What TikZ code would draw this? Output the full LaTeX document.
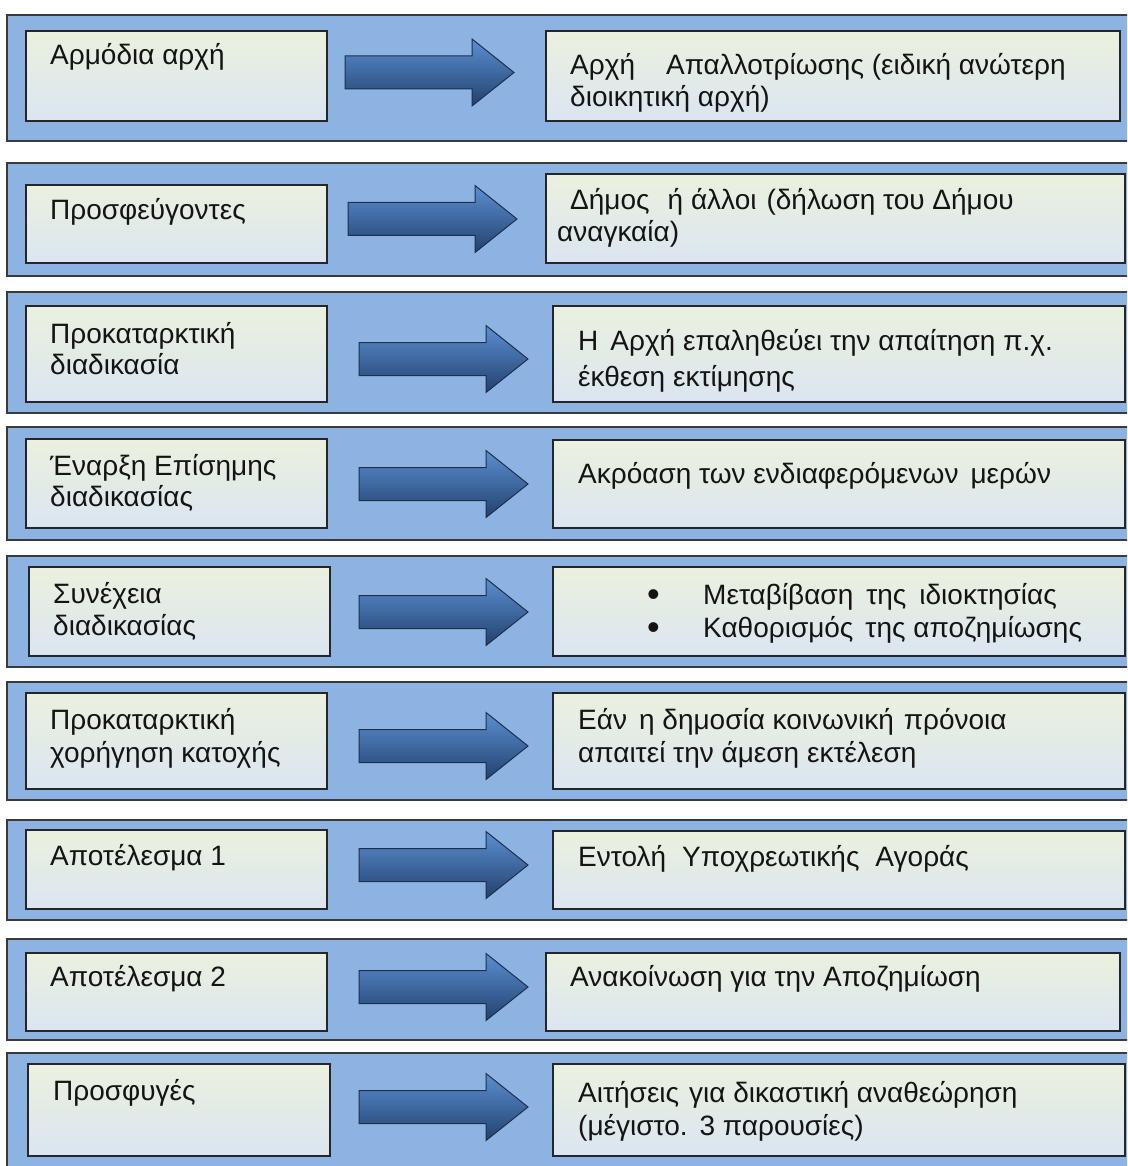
\documentclass[tikz,border=0pt]{standalone}
\usepackage{fontspec}
\setmainfont{Liberation Sans}
\definecolor{bandfill}{HTML}{8DB3E2}
\definecolor{bandline}{HTML}{3A3A3A}
\definecolor{cardtop}{HTML}{EBF1DE}
\definecolor{cardbot}{HTML}{DBE5F1}
\definecolor{arrowtop}{HTML}{5B8FD1}
\definecolor{arrowmid}{HTML}{3F6EAB}
\definecolor{arrowbot}{HTML}{22416E}
\definecolor{arrowline}{HTML}{1E2F4C}
\definecolor{inktext}{HTML}{141414}

% a rectangle given by its top-left and bottom-right corners
\newcommand\panelat[6]{%
  \node[#1, anchor=north west, minimum width={(#5-#3)*1pt}, minimum height={(#6-#4)*1pt}] (#2) at (#3,#4) {};}
% a block arrow: tail at x, centred on y
\newcommand\flowarrow[3]{%
  \coordinate (#1) at (#2,#3);
  \path[blockarrow] (#1) ++(0,-16.5) -- ++(127,0) -- ++(0,-17) -- ++(42,33.5)
    -- ++(-42,33.5) -- ++(0,-17) -- ++(-127,0) -- cycle;}

\begin{document}
\begin{tikzpicture}[x=1pt,y=-1pt,
  band/.style={draw=bandline, line width=1.2pt, fill=bandfill, inner sep=0pt, outer sep=0pt},
  card/.style={draw=black!85, line width=1.3pt, top color=cardtop, bottom color=cardbot, inner sep=0pt, outer sep=0pt},
  blockarrow/.style={draw=arrowline, line width=1pt, top color=arrowtop, middle color=arrowmid, bottom color=arrowbot},
  lbl/.style={anchor=base west, inner sep=0pt, text=inktext, font=\fontsize{28}{33}\selectfont},
  dot/.style={anchor=base west, inner sep=0pt, text=inktext, font=\fontsize{36}{33}\selectfont}
]
\fill[white] (0,0) rectangle (1127,1166);
\useasboundingbox (0,0) rectangle (1127,1166);
\clip (0,0) rectangle (1127,1166);

% background bands
\panelat{band}{b1}{7}{15}{1140}{141}
\panelat{band}{b2}{7}{163}{1140}{276}
\panelat{band}{b3}{7}{292}{1140}{413}
\panelat{band}{b4}{7}{427}{1140}{540}
\panelat{band}{b5}{7}{556}{1140}{667}
\panelat{band}{b6}{7}{682}{1140}{800}
\panelat{band}{b7}{7}{820}{1140}{920}
\panelat{band}{b8}{7}{939}{1140}{1040}
\panelat{band}{b9}{7}{1053}{1140}{1180}

% left cards
\panelat{card}{l1}{26}{31}{327}{121}
\panelat{card}{l2}{26}{185}{327}{263}
\panelat{card}{l3}{26}{306}{327}{402}
\panelat{card}{l4}{26}{439}{327}{528}
\panelat{card}{l5}{29}{567}{330}{656}
\panelat{card}{l6}{26}{693}{327}{789}
\panelat{card}{l7}{26}{830}{327}{909}
\panelat{card}{l8}{26}{953}{327}{1031}
\panelat{card}{l9}{28}{1064}{330}{1156}

% right cards
\panelat{card}{r1}{546}{31}{1120}{121}
\panelat{card}{r2}{546}{174}{1125}{263}
\panelat{card}{r3}{553}{306}{1125}{402}
\panelat{card}{r4}{553}{440}{1125}{528}
\panelat{card}{r5}{553}{567}{1125}{656}
\panelat{card}{r6}{553}{693}{1125}{789}
\panelat{card}{r7}{553}{831}{1125}{909}
\panelat{card}{r8}{546}{953}{1120}{1031}
\panelat{card}{r9}{553}{1064}{1125}{1156}

% arrows
\flowarrow{a1}{345}{72.5}
\flowarrow{a2}{348}{219}
\flowarrow{a3}{359}{359}
\flowarrow{a4}{359}{484}
\flowarrow{a5}{359}{612}
\flowarrow{a6}{359}{746}
\flowarrow{a7}{359}{865}
\flowarrow{a8}{359}{987}
\flowarrow{a9}{359}{1107}

% left texts
\node[lbl] (tl1) at (50,65) {Αρμόδια αρχή};
\node[lbl] (tl2) at (50,220) {Προσφεύγοντες};
\node[lbl] (tl3a) at (50,343) {Προκαταρκτική};
\node[lbl] (tl3b) at (50,374) {διαδικασία};
\node[lbl] (tl4a) at (50,475) {Έναρξη Επίσημης};
\node[lbl] (tl4b) at (50,506) {διαδικασίας};
\node[lbl] (tl5a) at (53,603) {Συνέχεια};
\node[lbl] (tl5b) at (53,635) {διαδικασίας};
\node[lbl] (tl6a) at (50,729) {Προκαταρκτική};
\node[lbl] (tl6b) at (50,762) {χορήγηση κατοχής};
\node[lbl] (tl7) at (50,865) {Αποτέλεσμα 1};
\node[lbl] (tl8) at (50,986) {Αποτέλεσμα 2};
\node[lbl] (tl9) at (53,1100) {Προσφυγές};

% right texts
\node[lbl] (tr1a) at (570,75) {Αρχή\hspace{31pt}Απαλλοτρίωσης (ειδική ανώτερη};
\node[lbl] (tr1b) at (570,107) {διοικητική αρχή)};
\node[lbl] (tr2a) at (570,210) {Δήμος\hspace{18pt}ή άλλοι\hspace{10pt}(δήλωση του Δήμου};
\node[lbl] (tr2b) at (557,242) {αναγκαία)};
\node[lbl] (tr3a) at (578,350) {Η\hspace{12pt}Αρχή επαληθεύει την απαίτηση π.χ.};
\node[lbl] (tr3b) at (578,386) {έκθεση εκτίμησης};
\node[lbl] (tr4) at (578,483) {Ακρόαση των ενδιαφερόμενων\hspace{12pt}μερών};
\node[dot] (bu5a) at (647,606) {•};
\node[dot] (bu5b) at (647,639) {•};
\node[lbl] (tr5a) at (703,604) {Μεταβίβαση\hspace{13pt}της\hspace{13pt}ιδιοκτησίας};
\node[lbl] (tr5b) at (703,637) {Καθορισμός\hspace{12pt}της αποζημίωσης};
\node[lbl] (tr6a) at (578,729) {Εάν\hspace{12pt}η δημοσία κοινωνική\hspace{10pt}πρόνοια};
\node[lbl] (tr6b) at (578,762) {απαιτεί την άμεση εκτέλεση};
\node[lbl] (tr7) at (578,866) {Εντολή\hspace{16pt}Υποχρεωτικής\hspace{16pt}Αγοράς};
\node[lbl] (tr8) at (570,986) {Ανακοίνωση για την Αποζημίωση};
\node[lbl] (tr9a) at (578,1102) {Αιτήσεις\hspace{10pt}για δικαστική αναθεώρηση};
\node[lbl] (tr9b) at (578,1135) {(μέγιστο.\hspace{12pt}3 παρουσίες)};
\end{tikzpicture}
\end{document}
